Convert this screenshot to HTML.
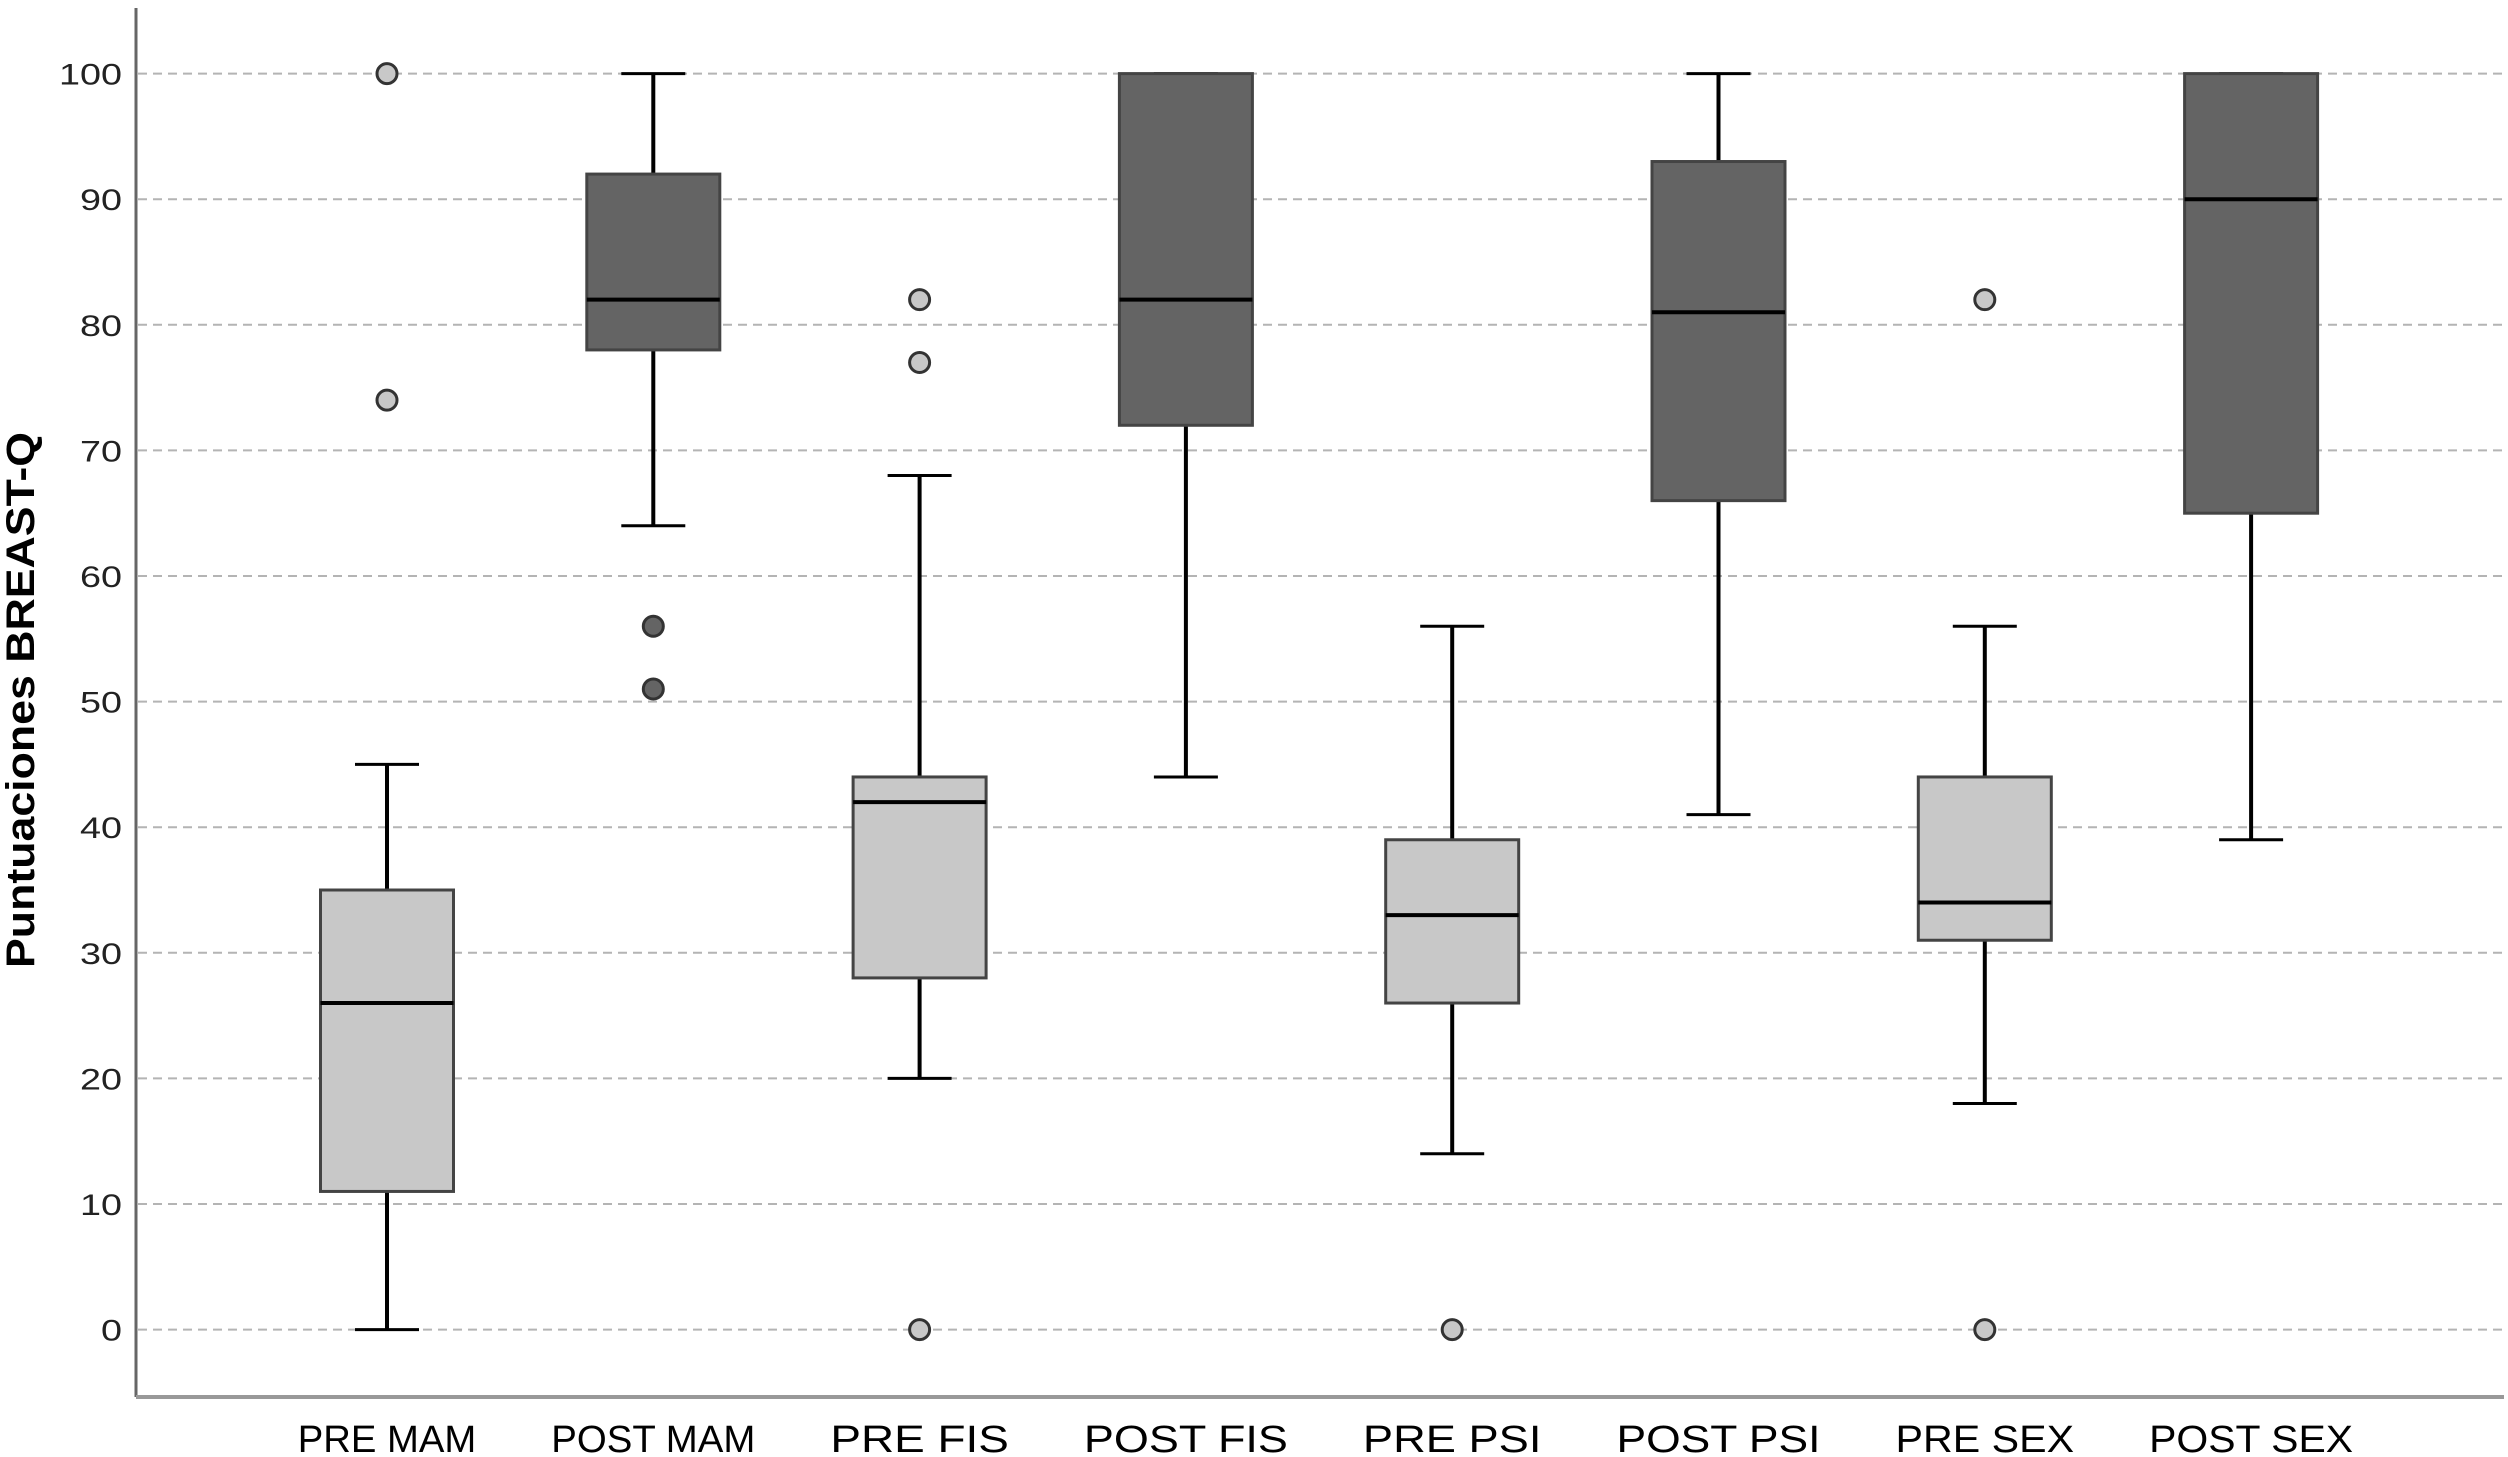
<!DOCTYPE html>
<html><head><meta charset="utf-8"><style>
html,body{margin:0;padding:0;background:#fff;}
svg{display:block;}
</style></head><body>
<svg id="chart" width="2508" height="1457" xmlns="http://www.w3.org/2000/svg"></svg>
<script>
const categories = ["PRE MAM","POST MAM","PRE FIS","POST FIS","PRE PSI","POST PSI","PRE SEX","POST SEX"];
const mins    = [0, 64, 20, 44, 14, 41, 18, 39];
const q1s     = [11, 78, 28, 72, 26, 66, 31, 65];
const medians = [26, 82, 42, 82, 33, 81, 34, 90];
const q3s     = [35, 92, 44, 100, 39, 93, 44, 100];
const maxs    = [45, 100, 68, 100, 56, 100, 56, 100];
const outliers = [[74,100],[56,51],[82,77,0],[],[0],[],[82,0],[]];
const yTicks = [0,10,20,30,40,50,60,70,80,90,100];

const svg = document.getElementById('chart');
const NS = 'http://www.w3.org/2000/svg';
const plotL = 136, plotR = 2504, plotB = 1397;
const y = v => 1329.6 - v * (1329.6 - 73.6) / 100;
const x = i => 387 + i * 266.3;
function mk(tag, attrs, parent){ const e = document.createElementNS(NS, tag); for (const k in attrs) e.setAttribute(k, attrs[k]); (parent||svg).appendChild(e); return e; }

yTicks.forEach(t => {
  const g = mk('line',{x1:plotL+2,x2:plotR,y1:y(t),y2:y(t),stroke:'#b4b4b4','stroke-width':2,'stroke-dasharray':'9,6'});
  
  
  const s = String(t);
  const tx = mk('text',{x:122,y:y(t)+11,'text-anchor':'end','font-family':'Liberation Sans, sans-serif','font-size':30,fill:'#222',textLength:s.length*21,lengthAdjust:'spacingAndGlyphs'});
  tx.textContent = t;
  
  
});

const ya = mk('line',{x1:plotL,x2:plotL,y1:8,y2:plotB,stroke:'#666','stroke-width':3});


const xa = mk('line',{x1:plotL,x2:plotR,y1:plotB,y2:plotB,stroke:'#999','stroke-width':4});



const yt = mk('text',{x:0,y:0,transform:'translate(34,700) rotate(-90)','text-anchor':'middle','font-family':'Liberation Sans, sans-serif','font-size':40,'font-weight':'bold',fill:'#000',textLength:536,lengthAdjust:'spacingAndGlyphs'});
yt.textContent = 'Puntuaciones BREAST-Q';



const bw = 133, cap = 64;
categories.forEach((c, i) => {
  const cx = x(i);
  const pre = c.startsWith('PRE');
  const fill = pre ? '#c8c8c8' : '#646464';
  const g = mk('g',{});
  
  
  mk('line',{x1:cx,x2:cx,y1:y(q3s[i]),y2:y(maxs[i]),stroke:'#000','stroke-width':4},g);
  mk('line',{x1:cx,x2:cx,y1:y(q1s[i]),y2:y(mins[i]),stroke:'#000','stroke-width':4},g);
  mk('line',{x1:cx-cap/2,x2:cx+cap/2,y1:y(maxs[i]),y2:y(maxs[i]),stroke:'#000','stroke-width':3},g);
  mk('line',{x1:cx-cap/2,x2:cx+cap/2,y1:y(mins[i]),y2:y(mins[i]),stroke:'#000','stroke-width':3},g);
  mk('rect',{x:cx-bw/2,y:y(q3s[i]),width:bw,height:y(q1s[i])-y(q3s[i]),fill:fill,stroke:'#444','stroke-width':3},g);
  mk('line',{x1:cx-bw/2,x2:cx+bw/2,y1:y(medians[i]),y2:y(medians[i]),stroke:'#000','stroke-width':4},g);
  outliers[i].forEach(v => {
    const o = mk('circle',{cx:cx,cy:y(v),r:10,fill:fill,stroke:'#333','stroke-width':3},g);
    
    
  });
  const lbl = mk('text',{x:cx,y:1452,'text-anchor':'middle','font-family':'Liberation Sans, sans-serif','font-size':38,fill:'#000',textLength:c.length*25.5,lengthAdjust:'spacingAndGlyphs'});
  lbl.textContent = c;
  
  
});
</script>
</body></html>
